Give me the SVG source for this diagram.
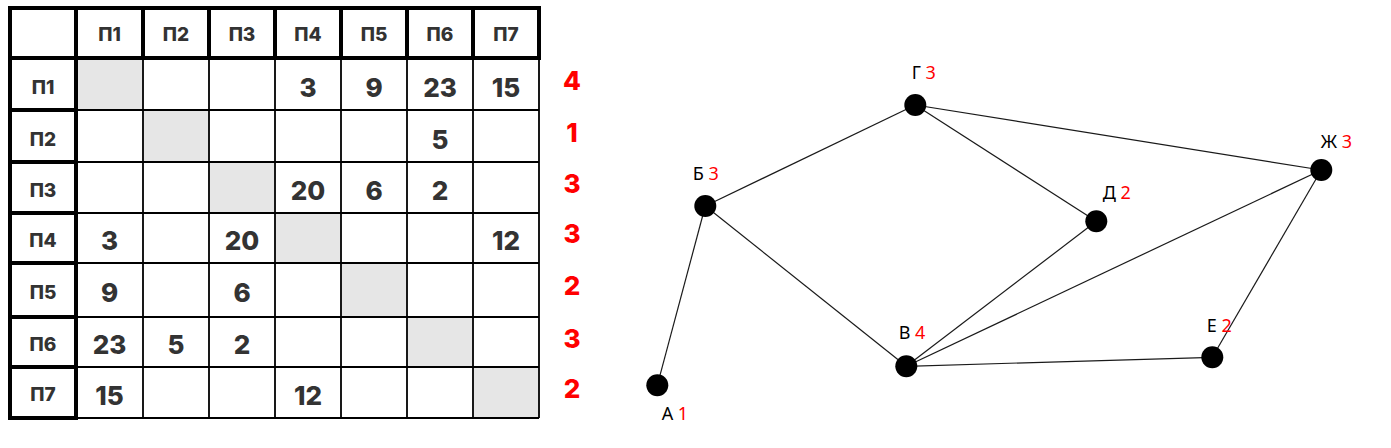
<svg xmlns="http://www.w3.org/2000/svg" width="1391" height="448" viewBox="0 0 1391 448">
<style>
.thick{fill:none;stroke:#000;stroke-width:4}
.thin{fill:none;stroke:#000;stroke-width:1.8}
.gray{fill:#e6e6e6}
.hd{font-family:Inter,"Open Sans",sans-serif;font-weight:800;font-size:19px;fill:#333;text-anchor:middle}
.num{font-family:Inter,"Open Sans",sans-serif;font-weight:800;font-size:26px;fill:#333;text-anchor:middle}
.red{font-family:Inter,"Open Sans",sans-serif;font-weight:800;font-size:26px;fill:#f00;text-anchor:middle}
.lbl{font-family:"Noto Sans",sans-serif;font-size:18px;fill:#000}
.lr{fill:#f00}
.edge{stroke:#1a1a1a;stroke-width:1.2;fill:none}
.node{fill:#000}
</style>
<rect width="1391" height="448" fill="#fff"/>
<g id="table">
  <g id="gray-cells">
    <rect class="gray" x="77" y="59" width="65" height="50"/>
    <rect class="gray" x="144" y="111" width="64" height="50"/>
    <rect class="gray" x="210" y="163" width="64" height="49"/>
    <rect class="gray" x="276" y="214" width="64" height="48"/>
    <rect class="gray" x="342" y="264" width="64" height="52"/>
    <rect class="gray" x="408" y="318" width="64" height="48"/>
    <rect class="gray" x="474" y="368" width="64" height="49"/>
  </g>
  <g id="thin-grid">
    <path class="thin" d="M143 58V418M209 58V418M275 58V418M341 58V418M407 58V418M473 58V418M539 58V418"/>
    <path class="thin" d="M76 110H539M76 162H539M76 213H539M76 263H539M76 317H539M76 367H539M76 418H539"/>
  </g>
  <g id="header-row">
    <rect class="thick" x="10" y="8" width="66" height="50"/>
    <rect class="thick" x="76" y="8" width="67" height="50"/>
    <rect class="thick" x="143" y="8" width="66" height="50"/>
    <rect class="thick" x="209" y="8" width="66" height="50"/>
    <rect class="thick" x="275" y="8" width="66" height="50"/>
    <rect class="thick" x="341" y="8" width="66" height="50"/>
    <rect class="thick" x="407" y="8" width="66" height="50"/>
    <rect class="thick" x="473" y="8" width="66" height="50"/>
    <text class="hd" x="109.5" y="41">П1</text>
    <text class="hd" x="176" y="41">П2</text>
    <text class="hd" x="242" y="41">П3</text>
    <text class="hd" x="308" y="41">П4</text>
    <text class="hd" x="374" y="41">П5</text>
    <text class="hd" x="440" y="41">П6</text>
    <text class="hd" x="506" y="41">П7</text>
  </g>
  <g id="header-col">
    <rect class="thick" x="10" y="58" width="66" height="52"/>
    <rect class="thick" x="10" y="110" width="66" height="52"/>
    <rect class="thick" x="10" y="162" width="66" height="51"/>
    <rect class="thick" x="10" y="213" width="66" height="50"/>
    <rect class="thick" x="10" y="263" width="66" height="54"/>
    <rect class="thick" x="10" y="317" width="66" height="50"/>
    <rect class="thick" x="10" y="367" width="66" height="51"/>
    <text class="hd" x="43" y="94">П1</text>
    <text class="hd" x="43" y="146">П2</text>
    <text class="hd" x="43" y="197">П3</text>
    <text class="hd" x="43" y="247">П4</text>
    <text class="hd" x="43" y="299">П5</text>
    <text class="hd" x="43" y="351">П6</text>
    <text class="hd" x="43" y="401">П7</text>
  </g>
  <g id="values">
    <text class="num" x="308" y="97">3</text>
    <text class="num" x="374" y="97">9</text>
    <text class="num" x="440" y="97">23</text>
    <text class="num" x="506" y="97">15</text>
    <text class="num" x="440" y="149">5</text>
    <text class="num" x="308" y="200">20</text>
    <text class="num" x="374" y="200">6</text>
    <text class="num" x="440" y="200">2</text>
    <text class="num" x="109.5" y="250">3</text>
    <text class="num" x="242" y="250">20</text>
    <text class="num" x="506" y="250">12</text>
    <text class="num" x="109.5" y="302">9</text>
    <text class="num" x="242" y="302">6</text>
    <text class="num" x="109.5" y="354">23</text>
    <text class="num" x="176" y="354">5</text>
    <text class="num" x="242" y="354">2</text>
    <text class="num" x="109.5" y="405">15</text>
    <text class="num" x="308" y="405">12</text>
  </g>
  <g id="degrees">
    <text class="red" x="572" y="90">4</text>
    <text class="red" x="572" y="142">1</text>
    <text class="red" x="572" y="193">3</text>
    <text class="red" x="572" y="243">3</text>
    <text class="red" x="572" y="295">2</text>
    <text class="red" x="572" y="348">3</text>
    <text class="red" x="572" y="398">2</text>
  </g>
</g>
<g id="connectors">
  <line class="edge" x1="705.3" y1="206" x2="915.3" y2="105"/>
  <line class="edge" x1="915.3" y1="105" x2="1321.3" y2="170"/>
  <line class="edge" x1="915.3" y1="105" x2="1096.3" y2="221.3"/>
  <line class="edge" x1="705.3" y1="206" x2="657.3" y2="385.3"/>
  <line class="edge" x1="705.3" y1="206" x2="906.3" y2="366.3"/>
  <line class="edge" x1="1096.3" y1="221.3" x2="906.3" y2="366.3"/>
  <line class="edge" x1="1321.3" y1="170" x2="906.3" y2="366.3"/>
  <line class="edge" x1="1321.3" y1="170" x2="1212.3" y2="357.3"/>
  <line class="edge" x1="906.3" y1="366.3" x2="1212.3" y2="357.3"/>
</g>
<g id="node-A"><circle class="node" cx="657.3" cy="385.3" r="11"/><text class="lbl" x="661.7" y="420">А <tspan class="lr">1</tspan></text></g>
<g id="node-B"><circle class="node" cx="705.3" cy="206" r="11"/><text class="lbl" x="692.7" y="180">Б <tspan class="lr">3</tspan></text></g>
<g id="node-V"><circle class="node" cx="906.3" cy="366.3" r="11"/><text class="lbl" x="898.7" y="339.3">В <tspan class="lr">4</tspan></text></g>
<g id="node-G"><circle class="node" cx="915.3" cy="105" r="11"/><text class="lbl" x="911.7" y="79.3">Г <tspan class="lr">3</tspan></text></g>
<g id="node-D"><circle class="node" cx="1096.3" cy="221.3" r="11"/><text class="lbl" x="1102.7" y="198.7">Д <tspan class="lr">2</tspan></text></g>
<g id="node-E"><circle class="node" cx="1212.3" cy="357.3" r="11"/><text class="lbl" x="1206.7" y="332">Е <tspan class="lr">2</tspan></text></g>
<g id="node-Zh"><circle class="node" cx="1321.3" cy="170" r="11"/><text class="lbl" x="1320.7" y="147.7">Ж <tspan class="lr">3</tspan></text></g>
</svg>
